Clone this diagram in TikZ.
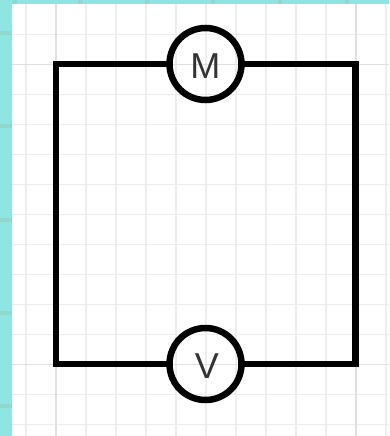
\documentclass[tikz,border=0pt]{standalone}
\usepackage{fontspec}
\setmainfont{Liberation Sans}
\definecolor{strip}{HTML}{8FE5E1}
\definecolor{stripmark}{HTML}{92D6CD}
\definecolor{gridfine}{HTML}{EEEEEE}
\definecolor{gridmain}{HTML}{E0E0E0}
\definecolor{labelgrey}{HTML}{333333}
\tikzset{
  finegrid/.style={draw=gridfine,line width=1.2pt},
  maingrid/.style={draw=gridmain,line width=1.2pt},
  wire/.style={draw=black,line width=6.5pt},
  meter/.style={circle,draw=black,line width=6.5pt,minimum size=72pt,inner sep=0pt,outer sep=0pt},
  meterlabel/.style={text=labelgrey,font=\fontsize{36pt}{36pt}\selectfont,inner sep=0pt},
}
\begin{document}
\begin{tikzpicture}[x=1pt,y=-1pt]
\useasboundingbox (0,0) rectangle (389,436);
\fill[strip] (0,0) rectangle (389,436);
\foreach \y in {33,126,220,313,406} \fill[stripmark] (0,\y-2) rectangle (12,\y+2);
\foreach \x in {15,80,147,213,280,347} \fill[stripmark] (\x-2,0) rectangle (\x+2,4);
\fill[white] (12,4) rectangle (389,436);
\foreach \x in {26,86,116,146,176,206,236,266,296,326,386} \draw[finegrid] (\x,4) -- (\x,436);
\foreach \y in {34.5,94.5,124.5,154.5,184.5,214.5,244.5,274.5,304.5,334.5,394.5,424.5} \draw[finegrid] (12,\y) -- (389,\y);
\foreach \x in {56,356} \draw[maingrid] (\x,4) -- (\x,436);
\foreach \y in {64.5,364.5} \draw[maingrid] (12,\y) -- (389,\y);
\node[meter] (m) at (205.5,64) {};
\node[meter] (v) at (205.5,364) {};
\node[meterlabel] (mlabel) at (205.3,66) {M};
\node[meterlabel] (vlabel) at (207,366.5) {V};
\coordinate (tl) at (56,64);
\coordinate (tr) at (355.5,64);
\coordinate (bl) at (56,364);
\coordinate (br) at (355.5,364);
\draw[wire,line join=miter] (m.west) -- (tl) -- (bl) -- (v.west);
\draw[wire,line join=miter] (m.east) -- (tr) -- (br) -- (v.east);
\end{tikzpicture}
\end{document}
